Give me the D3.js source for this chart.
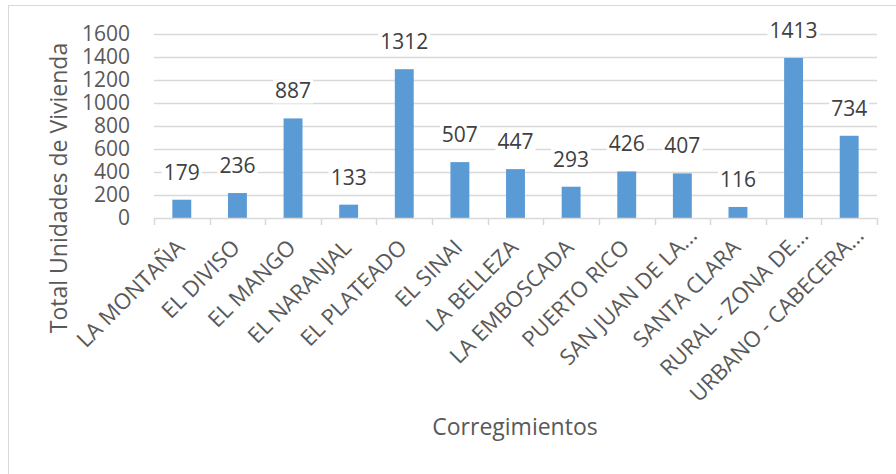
<!DOCTYPE html>
<html>
<head>
<meta charset="utf-8">
<script src="https://cdn.jsdelivr.net/npm/d3@7"></script>
<style>
  body { margin: 0; background: #fff; }
  svg text { font-family: "Open Sans", sans-serif; }
</style>
</head>
<body>
<div class="chart"></div>
<script>
// categories on the x axis
var categories = ["LA MONTAÑA", "EL DIVISO", "EL MANGO", "EL NARANJAL", "EL PLATEADO", "EL SINAI",
  "LA BELLEZA", "LA EMBOSCADA", "PUERTO RICO", "SAN JUAN DE LA...", "SANTA CLARA",
  "RURAL - ZONA DE...", "URBANO - CABECERA..."];
// bar heights as drawn
var barValues = [159, 217, 866, 116, 1294, 486, 425, 272, 405, 388, 96, 1392, 715];
// numbers printed above the bars
var labelValues = [179, 236, 887, 133, 1312, 507, 447, 293, 426, 407, 116, 1413, 734];
var yTicks = [0, 200, 400, 600, 800, 1000, 1200, 1400, 1600];

var width = 896, height = 474;
var margin = { top: 34, right: 19, bottom: 256, left: 154 };
var w = width - margin.left - margin.right;
var h = height - margin.top - margin.bottom;

var svg = d3.select(".chart").append("svg")
    .attr("width", width)
    .attr("height", height);

// chart border (right and bottom edges fall outside the picture)
svg.append("rect")
    .attr("x", 8.5).attr("y", 5.5)
    .attr("width", 1000).attr("height", 1000)
    .attr("fill", "none")
    .attr("stroke", "#d9d9d9");

var g = svg.append("g")
    .attr("transform", "translate(" + margin.left + "," + margin.top + ")");

var x = d3.scaleBand().domain(categories).range([0, w]).paddingInner(0.66).paddingOuter(0.33);
var y = d3.scaleLinear().domain([0, 1600]).range([h, 0]);

// gridlines
g.selectAll(".grid")
    .data(yTicks.slice(1))
    .enter().append("line")
    .attr("x1", 0).attr("x2", w)
    .attr("y1", function(d) { return Math.round(y(d)) + 0.5; })
    .attr("y2", function(d) { return Math.round(y(d)) + 0.5; })
    .attr("stroke", "#d9d9d9")
    .attr("stroke-width", 1.5);

// y axis labels
var yAxis = g.append("g")
    .call(d3.axisLeft(y).tickValues(yTicks).tickFormat(d3.format("d")).tickSize(0).tickPadding(24));
yAxis.select(".domain").remove();
yAxis.selectAll("text")
    .attr("fill", "#595959")
    .style("font-size", "21px");

// bars
g.selectAll(".bar")
    .data(barValues)
    .enter().append("rect")
    .attr("class", "bar")
    .attr("x", function(d, i) { return x(categories[i]); })
    .attr("y", function(d) { return y(d); })
    .attr("width", x.bandwidth())
    .attr("height", function(d) { return h - y(d); })
    .attr("fill", "#5b9bd5");

// x axis line and boundary ticks
var step = x.step();
g.append("line")
    .attr("x1", 0).attr("x2", w)
    .attr("y1", h + 0.5).attr("y2", h + 0.5)
    .attr("stroke", "#d9d9d9")
    .attr("stroke-width", 1.5);
g.selectAll(".xtick")
    .data(d3.range(categories.length + 1))
    .enter().append("line")
    .attr("x1", function(i) { return Math.round(i * step) + 0.5; })
    .attr("x2", function(i) { return Math.round(i * step) + 0.5; })
    .attr("y1", h).attr("y2", h + 7)
    .attr("stroke", "#d9d9d9")
    .attr("stroke-width", 1.5);

// category labels, rotated (truncated ones sit a little further out)
var xAxis = g.append("g")
    .attr("transform", "translate(0," + h + ")")
    .call(d3.axisBottom(x).tickSize(0).tickPadding(0));
xAxis.select(".domain").remove();
xAxis.selectAll("text")
    .attr("fill", "#595959")
    .style("font-size", "22px")
    .attr("text-anchor", "end")
    .attr("dy", null)
    .attr("y", 0)
    .attr("dx", function(d) { return /\.\.\.$/.test(d) ? 17 : 0; })
    .attr("transform", "translate(4,31) rotate(-45)");

// value labels with white backgrounds
var labels = g.selectAll(".vlabel")
    .data(labelValues)
    .enter().append("g")
    .attr("class", "vlabel");
labels.append("text")
    .attr("x", function(d, i) { return x(categories[i]) + x.bandwidth() / 2; })
    .attr("y", function(d, i) { return y(barValues[i]) - 20; })
    .attr("text-anchor", "middle")
    .attr("fill", "#404040")
    .style("font-size", "21px")
    .text(function(d) { return d; });
labels.each(function() {
  var t = d3.select(this).select("text");
  var b = t.node().getBBox();
  d3.select(this).insert("rect", "text")
      .attr("x", b.x - 2).attr("y", b.y + 3)
      .attr("width", b.width + 4).attr("height", b.height - 4)
      .attr("fill", "#fff");
});

// axis titles
svg.append("text")
    .attr("transform", "translate(67," + 188 + ") rotate(-90)")
    .attr("text-anchor", "middle")
    .attr("fill", "#595959")
    .style("font-size", "23px")
    .text("Total Unidades de Vivienda");

svg.append("text")
    .attr("x", 515)
    .attr("y", 435)
    .attr("text-anchor", "middle")
    .attr("fill", "#595959")
    .style("font-size", "23px")
    .text("Corregimientos");
</script>
</body>
</html>
